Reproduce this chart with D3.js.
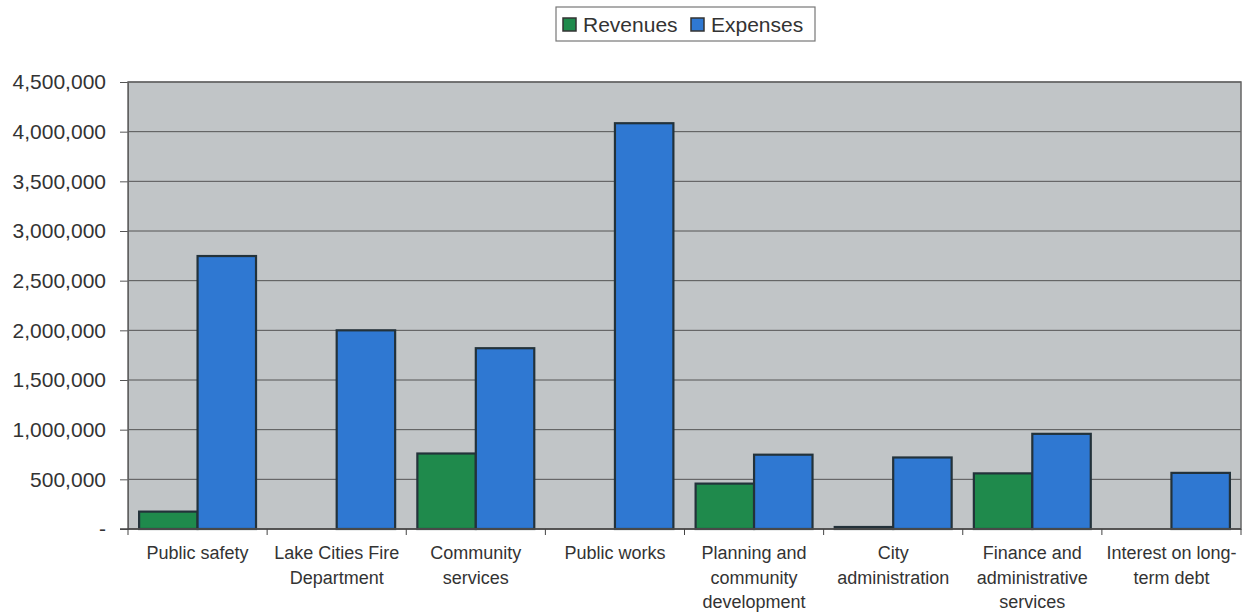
<!DOCTYPE html>
<html>
<head>
<meta charset="utf-8">
<script src="https://cdn.jsdelivr.net/npm/d3@7"></script>
<style>
  html, body { margin: 0; padding: 0; background: #fff; }
  svg { display: block; }
  text { font-family: Arial, "Liberation Sans", sans-serif; fill: #333; }
</style>
</head>
<body>
<svg id="chart" width="1247" height="614"></svg>
<script>
// Functions and their revenues / expenses
const categories = [
  ["Public safety"],
  ["Lake Cities Fire", "Department"],
  ["Community", "services"],
  ["Public works"],
  ["Planning and", "community", "development"],
  ["City", "administration"],
  ["Finance and", "administrative", "services"],
  ["Interest on long-", "term debt"]
];
const revenues = [175000, 0, 760000, 0, 457000, 20000, 560000, 0];
const expenses = [2748000, 2000000, 1820000, 4085000, 748000, 720000, 958000, 565000];
const seriesNames = ["Revenues", "Expenses"];
const yTicks = [0, 500000, 1000000, 1500000, 2000000, 2500000, 3000000, 3500000, 4000000, 4500000];

const colors = { Revenues: "#1f8a4c", Expenses: "#2f78d2" };

const svg = d3.select("#chart");
const margin = { left: 128, right: 6, top: 82, bottom: 85 };
const W = 1247, H = 614;
const pw = W - margin.left - margin.right;
const ph = H - margin.top - margin.bottom;

const g = svg.append("g").attr("transform", `translate(${margin.left},${margin.top})`);

const x0 = d3.scaleBand().domain(d3.range(categories.length)).range([0, pw]).paddingInner(0).paddingOuter(0);
const x1 = d3.scaleBand().domain(seriesNames).range([0, x0.bandwidth()]).paddingInner(0).paddingOuter(0.19);
const y = d3.scaleLinear().domain([0, 4500000]).range([ph, 0]);

// plot background
g.append("rect").attr("x", 0).attr("y", 0).attr("width", pw).attr("height", ph)
  .attr("fill", "#c1c5c7");

// horizontal gridlines
g.selectAll(".grid").data(yTicks.filter(d => d > 0)).join("line")
  .attr("x1", 0).attr("x2", pw)
  .attr("y1", d => y(d)).attr("y2", d => y(d))
  .attr("stroke", "#555").attr("stroke-width", 1);

// y axis
const fmt = d3.format(",");
const yAxis = d3.axisLeft(y).tickValues(yTicks).tickSize(8).tickPadding(14)
  .tickFormat(d => d === 0 ? "-" : fmt(d));
const ya = g.append("g").call(yAxis);
ya.select(".domain").attr("stroke", "#555");
ya.selectAll(".tick line").attr("stroke", "#555");
ya.selectAll(".tick text").attr("font-size", 21).attr("fill", "#333")
  .style("font-family", "Arial, 'Liberation Sans', sans-serif");

// bars
const rows = categories.map((c, i) => ({ i, values: [revenues[i], expenses[i]] }));
const groups = g.selectAll(".grp").data(rows).join("g")
  .attr("transform", d => `translate(${x0(d.i)},0)`);
groups.selectAll("rect").data(d => seriesNames.map((s, k) => ({ s, v: d.values[k] })))
  .join("rect")
  .attr("x", d => x1(d.s))
  .attr("width", x1.bandwidth())
  .attr("y", d => y(d.v))
  .attr("height", d => ph - y(d.v))
  .attr("fill", d => colors[d.s])
  .attr("stroke", "#23323a")
  .attr("stroke-width", 2.2);

// plot border
g.append("rect").attr("x", 0).attr("y", 0).attr("width", pw).attr("height", ph)
  .attr("fill", "none").attr("stroke", "#666").attr("stroke-width", 1.5);

// x axis with ticks at category boundaries
g.append("line").attr("x1", -8).attr("x2", pw).attr("y1", ph).attr("y2", ph)
  .attr("stroke", "#444").attr("stroke-width", 1.5);
g.selectAll(".xt").data(d3.range(categories.length + 1)).join("line")
  .attr("x1", i => i * x0.bandwidth()).attr("x2", i => i * x0.bandwidth())
  .attr("y1", ph).attr("y2", ph + 6)
  .attr("stroke", "#444");

// category labels
const labels = g.selectAll(".xl").data(categories).join("text")
  .attr("text-anchor", "middle")
  .attr("font-size", 18)
  .attr("transform", (d, i) => `translate(${x0(i) + x0.bandwidth() / 2},${ph + 30})`);
labels.selectAll("tspan").data(d => d).join("tspan")
  .attr("x", 0).attr("dy", (d, k) => k === 0 ? 0 : 24.5)
  .text(d => d);

// legend
const lg = svg.append("g").attr("transform", "translate(556,7)");
lg.append("rect").attr("x", 0).attr("y", 0).attr("width", 259).attr("height", 34)
  .attr("fill", "#fff").attr("stroke", "#777").attr("stroke-width", 1.2);
const items = lg.selectAll(".li").data(seriesNames).join("g")
  .attr("transform", (d, i) => `translate(${i === 0 ? 7 : 135},0)`);
items.append("rect").attr("x", 0).attr("y", 11).attr("width", 13).attr("height", 13)
  .attr("fill", d => colors[d]).attr("stroke", "#333").attr("stroke-width", 1.5);
items.append("text").attr("x", 20).attr("y", 25).attr("font-size", 21).text(d => d);
</script>
</body>
</html>
